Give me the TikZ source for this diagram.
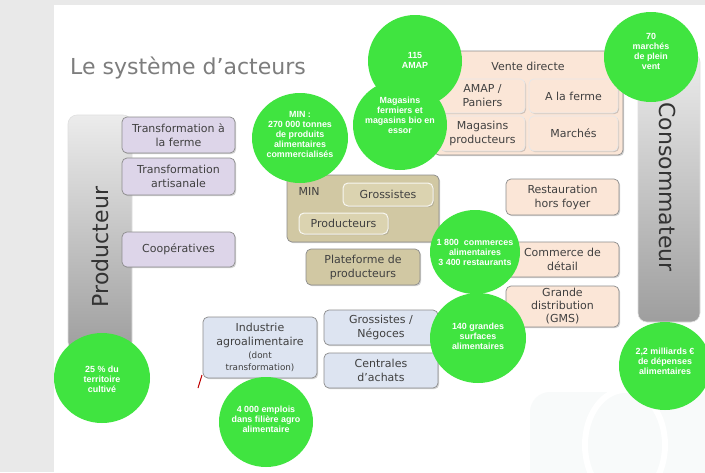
\documentclass[tikz,border=0pt]{standalone}
\usepackage{fontspec}
\setmainfont{DejaVu Sans}
\newfontfamily\statfont{Liberation Sans}
\usetikzlibrary{shapes.geometric,shadows}
\definecolor{bggray}{RGB}{233,233,233}
\definecolor{titlegray}{RGB}{125,125,125}
\definecolor{txt}{RGB}{64,64,64}
\definecolor{bordergray}{RGB}{140,140,140}
\definecolor{lav}{RGB}{221,213,233}
\definecolor{tan}{RGB}{209,200,163}
\definecolor{tanin}{RGB}{219,211,176}
\definecolor{peach}{RGB}{251,230,215}
\definecolor{lblue}{RGB}{221,228,241}
\definecolor{statgreen}{RGB}{64,228,64}
\definecolor{barlight}{RGB}{236,236,236}
\definecolor{bardark}{RGB}{158,158,158}
\definecolor{wmark}{RGB}{248,250,250}
\tikzset{
  box/.style={rounded corners=5pt, draw=bordergray, line width=0.7pt, align=center,
    text=txt, inner sep=1pt, font=\fontsize{11}{14}\selectfont,
    drop shadow={shadow xshift=1.2pt, shadow yshift=-1.2pt, opacity=0.35, fill=gray}},
  purplebox/.style={box, fill=lav},
  tanbox/.style={box, fill=tan},
  taninner/.style={box, fill=tanin, draw=white!85!tan, line width=1pt},
  peachbox/.style={box, fill=peach},
  peachinner/.style={box, fill=peach, draw=white!80!bordergray, line width=0.8pt},
  bluebox/.style={box, fill=lblue},
  bar/.style={rounded corners=9pt, draw=white!75!gray, line width=0.6pt,
    top color=barlight, bottom color=bardark},
  bartext/.style={text=black!80, font=\fontsize{22}{26}\selectfont, inner sep=0pt},
  stat/.style={ellipse, fill=statgreen, inner sep=0pt},
  stattext/.style={text=white, align=center, inner sep=0pt,
    font=\statfont\bfseries\fontsize{8.9}{10}\selectfont},
}
\begin{document}
\begin{tikzpicture}[x=1pt,y=-1pt]
\useasboundingbox (0,0) rectangle (705,472);
% background
\fill[bggray] (0,0) rectangle (705,472);
\fill[white] (54,5) rectangle (705,472);
\fill[wmark, rounded corners=20pt] (530,392) rectangle (720,490);
\draw[white, line width=6pt] (625,445) ellipse (40 and 55);
% title
\node[anchor=base west, text=titlegray, font=\fontsize{22}{26}\selectfont, inner sep=0pt] (title) at (70,74) {Le système d’acteurs};
% bars
\node[bar, minimum width=64, minimum height=236] (prodbar) at (100,233) {};
\node[bartext, rotate=90] (prodtxt) at (100,247) {Producteur};
\node[bar, minimum width=62, minimum height=269] (consbar) at (669,187.5) {};
\node[bartext, rotate=-90] (constxt) at (668,187) {Consommateur};
% purple boxes
\node[purplebox, minimum width=113, minimum height=36] (tferme) at (178.5,135) {Transformation à\\la ferme};
\node[purplebox, minimum width=113, minimum height=37] (tartis) at (178.5,176.5) {Transformation\\artisanale};
\node[purplebox, minimum width=113, minimum height=35] (coop) at (178.5,249.5) {Coopératives};
% MIN
\node[tanbox, minimum width=152, minimum height=67] (min) at (363,208.5) {};
\node[text=txt, font=\fontsize{11}{14}\selectfont, inner sep=0pt] (mintxt) at (309,191) {MIN};
\node[taninner, minimum width=90, minimum height=23] (gross) at (388,194.5) {Grossistes};
\node[taninner, minimum width=89, minimum height=21] (prods) at (343.5,223.5) {Producteurs};
\node[tanbox, minimum width=114, minimum height=36] (plat) at (363,267) {Plateforme de\\producteurs};
% vente directe
\node[peachbox, minimum width=189, minimum height=104] (vd) at (528.5,103) {};
\node[text=txt, font=\fontsize{11}{14}\selectfont, inner sep=0pt] (vdtxt) at (528,66) {Vente directe};
\node[peachinner, minimum width=85, minimum height=34] (amap) at (482.5,96) {AMAP /\\Paniers};
\node[peachinner, minimum width=89, minimum height=34] (ferme) at (573.5,96) {A la ferme};
\node[peachinner, minimum width=85, minimum height=35] (magp) at (482.5,133.5) {Magasins\\producteurs};
\node[peachinner, minimum width=89, minimum height=35] (march) at (573.5,133.5) {Marchés};
% right boxes
\node[peachbox, minimum width=113, minimum height=36] (resto) at (562.5,197) {Restauration\\hors foyer};
\node[peachbox, minimum width=113, minimum height=35] (comm) at (562.5,259.5) {Commerce de\\détail};
\node[peachbox, minimum width=113, minimum height=41, font=\fontsize{11}{13}\selectfont] (gms) at (562.5,306.5) {Grande\\distribution\\(GMS)};
% blue boxes
\node[bluebox, minimum width=114, minimum height=61] (iaa) at (260,347.5) {Industrie\\agroalimentaire\\[-1pt]{\fontsize{8.8}{10.5}\selectfont (dont}\\[-2pt]{\fontsize{8.8}{10.5}\selectfont transformation)}};
\node[bluebox, minimum width=114, minimum height=35] (negoce) at (381,327.5) {Grossistes /\\Négoces};
\node[bluebox, minimum width=114, minimum height=35] (centr) at (381,370.5) {Centrales\\d’achats};
% red slash
\coordinate (r1) at (202,375);
\coordinate (r2) at (198,388);
\draw[red!75!black, line width=1pt] (r1) -- (r2);
% green stats
\node[stat, minimum width=96, minimum height=90] (smin) at (300,138) {};
\node[stattext] (smintxt) at (300,134) {MIN :\\270 000 tonnes\\de produits\\alimentaires\\commercialisés};
\node[stat, minimum width=94, minimum height=92] (samap) at (415,61) {};
\node[stattext] (samaptxt) at (415,60) {115\\AMAP};
\node[stat, minimum width=94, minimum height=90] (smag) at (400,125) {};
\node[stattext] (smagtxt) at (400,115.5) {Magasins\\fermiers et\\magasins bio en\\essor};
\node[stat, minimum width=94, minimum height=90] (smarch) at (651,57) {};
\node[stattext] (smarchtxt) at (651,51) {70\\marchés\\de plein\\vent};
\node[stat, minimum width=90, minimum height=84] (scomm) at (475,252) {};
\node[stattext] (scommtxt) at (475,252) {1 800\ \ commerces\\alimentaires\\3 400 restaurants};
\node[stat, minimum width=96, minimum height=90] (sgs) at (478,338) {};
\node[stattext] (sgstxt) at (478,336) {140 grandes\\surfaces\\alimentaires};
\node[stat, minimum width=96, minimum height=90] (sterr) at (102,378) {};
\node[stattext] (sterrtxt) at (102,379) {25 \% du\\territoire\\cultivé};
\node[stat, minimum width=94, minimum height=90] (semp) at (266,422) {};
\node[stattext] (semptxt) at (266,419) {4 000 emplois\\dans filière agro\\alimentaire};
\node[stat, minimum width=92, minimum height=88] (sdep) at (665,366) {};
\node[stattext] (sdeptxt) at (665,361) {2,2 milliards €\\de dépenses\\alimentaires};
\end{tikzpicture}
\end{document}
